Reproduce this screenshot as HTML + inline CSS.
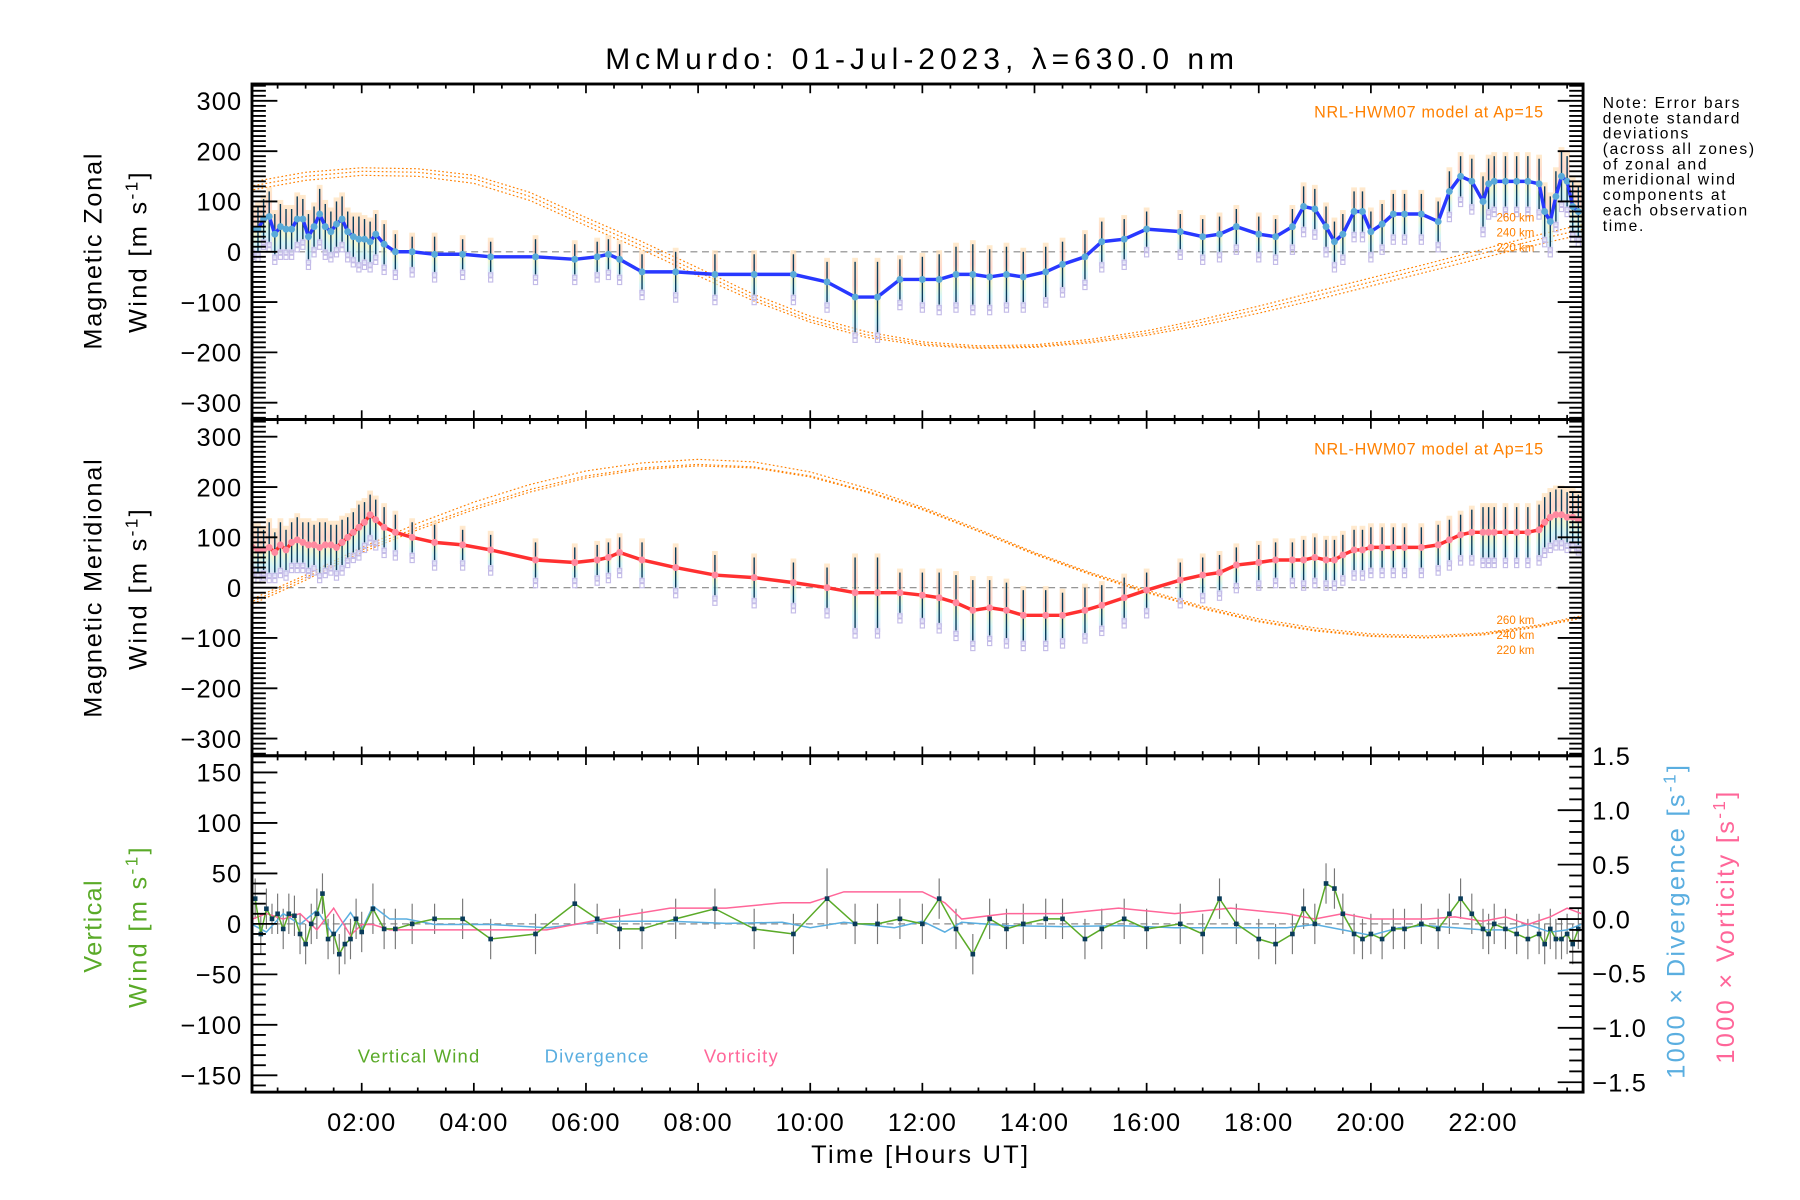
<!DOCTYPE html>
<html><head><meta charset="utf-8"><style>
html,body{margin:0;padding:0;background:#fff;}
svg{display:block;font-family:"Liberation Sans",sans-serif;}
</style></head><body>
<svg id="chart" width="1800" height="1200" viewBox="0 0 1560 1040" xmlns="http://www.w3.org/2000/svg">
<rect width="1560" height="1040" fill="#fff"/>
<g id="layer"></g>
</svg>
<script>
const obsT=[0.05,0.15,0.25,0.35,0.45,0.55,0.65,0.75,0.85,0.95,1.05,1.15,1.25,1.35,1.45,1.55,1.65,1.75,1.85,1.95,2.05,2.15,2.25,2.4,2.6,2.9,3.3,3.8,4.3,5.1,5.8,6.2,6.4,6.6,7.0,7.6,8.3,9.0,9.7,10.3,10.8,11.2,11.6,12.0,12.3,12.6,12.9,13.2,13.5,13.8,14.2,14.5,14.9,15.2,15.6,16.0,16.6,17.0,17.3,17.6,18.0,18.3,18.6,18.8,19.0,19.2,19.35,19.5,19.7,19.85,20.0,20.2,20.4,20.6,20.9,21.2,21.4,21.6,21.8,22.0,22.1,22.2,22.4,22.6,22.8,23.0,23.1,23.2,23.3,23.4,23.5,23.6,23.7];
const zonal=[45,45,65,70,35,50,45,45,65,65,30,50,75,50,40,55,65,40,30,25,25,20,35,15,0,0,-5,-5,-10,-10,-15,-10,-5,-15,-40,-40,-45,-45,-45,-60,-90,-90,-55,-55,-55,-45,-45,-50,-45,-50,-40,-25,-10,20,25,45,40,30,35,50,35,30,50,90,85,50,20,35,80,80,40,55,75,75,75,60,120,150,140,100,135,140,140,140,140,135,80,60,110,150,140,90,80];
const merid=[80,75,75,80,70,85,75,90,95,90,85,85,80,85,85,80,90,100,110,120,130,145,135,120,110,100,90,85,75,55,50,55,60,70,55,40,25,20,10,0,-10,-10,-10,-15,-20,-30,-45,-40,-45,-55,-55,-55,-45,-35,-20,-5,15,25,30,45,50,55,55,55,60,55,55,65,75,75,80,80,80,80,80,85,95,105,110,110,110,110,110,110,110,115,130,140,145,145,140,140,135];
const windErr=[40,45,40,50,40,45,40,40,45,40,45,40,50,45,40,45,45,40,40,45,40,40,40,40,35,30,35,30,30,35,30,30,30,30,35,40,40,40,40,40,70,70,40,45,50,55,60,55,55,50,50,45,45,40,40,35,35,35,35,35,35,35,35,40,40,40,40,40,40,40,40,40,40,40,40,40,40,40,45,50,50,50,50,50,50,50,50,50,50,50,50,50,50];
const vertT=[0.1,0.2,0.3,0.4,0.5,0.6,0.7,0.8,0.9,1.0,1.1,1.2,1.3,1.4,1.5,1.6,1.7,1.8,1.9,2.0,2.2,2.4,2.6,2.9,3.3,3.8,4.3,5.1,5.8,6.2,6.6,7.0,7.6,8.3,9.0,9.7,10.3,10.8,11.2,11.6,12.0,12.3,12.6,12.9,13.2,13.5,13.8,14.2,14.5,14.9,15.2,15.6,16.0,16.6,17.0,17.3,17.6,18.0,18.3,18.6,18.8,19.0,19.2,19.35,19.5,19.7,19.85,20.0,20.2,20.4,20.6,20.9,21.2,21.4,21.6,21.8,22.0,22.1,22.2,22.4,22.6,22.8,23.0,23.1,23.2,23.3,23.4,23.5,23.6,23.7];
const vertW=[25,-10,15,5,10,-5,10,8,-10,-20,0,10,30,-15,-10,-30,-20,-15,5,-8,15,-5,-5,0,5,5,-15,-10,20,5,-5,-5,5,15,-5,-10,25,0,0,5,0,25,-5,-30,5,-5,0,5,5,-15,-5,5,-5,0,-10,25,0,-15,-20,-10,15,0,40,35,10,-10,-15,-10,-15,-5,-5,0,-5,10,25,10,-5,-10,0,-5,-10,-15,-10,-20,-5,-15,-15,-10,-20,-5];
const vertErr=[20,20,20,15,20,20,20,20,20,20,20,25,20,20,20,20,20,20,20,20,25,20,20,20,15,20,20,20,20,15,20,20,20,20,20,20,30,20,20,20,20,20,20,20,20,20,20,20,20,20,20,20,20,20,20,20,20,20,20,20,20,20,20,20,20,20,20,20,20,20,20,20,20,20,20,20,20,20,20,20,20,20,20,20,20,20,20,20,20,20];
const divT=[0.05,0.3,0.6,0.9,1.2,1.5,1.8,2.0,2.2,2.5,2.8,3.3,4.3,5.3,6.3,7.5,8.5,9.5,10.0,10.6,11.5,12.0,12.4,12.7,13.5,14.5,15.5,16.5,17.5,18.5,19.0,19.5,20.0,20.5,21.0,21.5,22.0,22.4,22.8,23.2,23.5,23.75];
const divV=[-0.05,-0.12,0.05,-0.05,0.08,-0.15,0.06,-0.1,0.12,0.0,0.0,-0.05,-0.05,-0.08,-0.02,-0.02,-0.04,-0.03,-0.08,-0.03,-0.08,-0.02,-0.12,-0.03,-0.06,-0.07,-0.06,-0.08,-0.08,-0.08,-0.05,-0.1,-0.15,-0.08,-0.06,-0.08,-0.1,-0.1,-0.05,-0.12,-0.1,-0.05];
const vortV=[0.0,0.05,0.0,0.05,-0.1,0.1,-0.15,-0.05,-0.05,-0.1,-0.1,-0.1,-0.1,-0.1,0.0,0.1,0.1,0.15,0.15,0.25,0.25,0.25,0.15,0.0,0.05,0.05,0.1,0.05,0.1,0.05,0.0,0.05,0.0,0.0,0.0,0.02,-0.02,0.02,-0.05,0.02,0.1,0.05];
const hours=[0,1,2,3,4,5,6,7,8,9,10,11,12,13,14,15,16,17,18,19,20,21,22,23,24];
const zonM260=[122,142,152,150,136,102,52,4,-48,-98,-140,-170,-186,-192,-190,-181,-166,-146,-122,-96,-68,-40,-12,15,40];
const zonM240=[130,150,160,158,145,110,60,12,-40,-92,-135,-165,-183,-190,-188,-178,-162,-140,-115,-88,-60,-32,-3,25,50];
const zonM220=[138,158,167,165,152,118,68,20,-32,-85,-128,-159,-179,-187,-185,-174,-157,-134,-108,-80,-52,-24,5,34,60];
const merM260=[-35,15,70,115,155,190,218,235,242,238,220,190,155,112,66,26,-10,-42,-68,-86,-97,-100,-94,-78,-55];
const merM240=[-30,20,75,120,160,195,222,238,245,240,222,192,157,113,68,28,-8,-40,-66,-84,-95,-99,-92,-76,-52];
const merM220=[-25,25,80,128,170,205,232,248,255,250,230,198,160,116,70,30,-5,-37,-62,-80,-92,-96,-90,-74,-50];
const ticksX=["02:00","04:00","06:00","08:00","10:00","12:00","14:00","16:00","18:00","20:00","22:00"];
const ticksWind=[300,200,100,0,-100,-200,-300];
const ticksVert=[150,100,50,0,-50,-100,-150];
const ticksRight=["1.5","1.0","0.5","0.0","\u22120.5","\u22121.0","\u22121.5"];

const NS="http://www.w3.org/2000/svg";
const L=document.getElementById('layer');
function mk(tag,attrs,parent){const e=document.createElementNS(NS,tag);for(const k in attrs)e.setAttribute(k,attrs[k]);(parent||L).appendChild(e);return e;}
const X0=218.4,X1=1372;
const xs=t=>216.3+48.59*t;
const P1={top:72.8,bot:363.6,zero:218.2,k:0.436};
const P2={top:363.6,bot:655,zero:509.3,k:0.436};
const P3={top:655,bot:946.5,zero:800.7,k:0.875};
const yP=(p,v)=>p.zero-v*p.k;
const yR=v=>796.5-v*94.3;
const fmt=v=>v<0?"\u2212"+Math.abs(v):String(v);

[P1,P2,P3].forEach((p,i)=>{const l=mk('line',{x1:X0,x2:X1,y1:p.zero,y2:p.zero,stroke:'#888','stroke-width':1,'stroke-dasharray':'6,4'});

});

const clip1=mk('clipPath',{id:'c1'});mk('rect',{x:X0,y:P1.top,width:X1-X0,height:P1.bot-P1.top},clip1);
const clip2=mk('clipPath',{id:'c2'});mk('rect',{x:X0,y:P2.top,width:X1-X0,height:P2.bot-P2.top},clip2);
const clip3=mk('clipPath',{id:'c3'});mk('rect',{x:X0,y:P3.top,width:X1-X0,height:P3.bot-P3.top},clip3);
const grad=mk('linearGradient',{id:'rb',x1:0,y1:0,x2:0,y2:1});
[['0','#ffe2b8'],['0.35','#ffc8b8'],['0.6','#eef4c0'],['0.8','#c0f0f4'],['1','#d4d0f4']].forEach(s=>mk('stop',{offset:s[0],'stop-color':s[1]},grad));

function modelLine(p,arr,name,clip){const pts=hours.map((h,i)=>[xs(h),yP(p,arr[i])]);
const e=mk('polyline',{points:pts.map(q=>q.join(',')).join(' '),fill:'none',stroke:'#ff8000','stroke-width':1,'stroke-dasharray':'1.5,2','clip-path':'url(#'+clip+')'});

}
modelLine(P1,zonM260,'zonal-model-260km','c1');modelLine(P1,zonM240,'zonal-model-240km','c1');modelLine(P1,zonM220,'zonal-model-220km','c1');
modelLine(P2,merM260,'meridional-model-260km','c2');modelLine(P2,merM240,'meridional-model-240km','c2');modelLine(P2,merM220,'meridional-model-220km','c2');

function windPanel(p,vals,lineCol,ptCol,clip,name){
 const g=mk('g',{'clip-path':'url(#'+clip+')'});
 
 
 obsT.forEach((t,i)=>{const x=xs(t),v=vals[i],e=windErr[i]||40;
  const r=mk('rect',{x:x-2.5,y:yP(p,v+e+8),width:5,height:(2*e+16)*p.k,fill:'url(#rb)',opacity:0.7},g);
  
  
  for(let j=0;j<2;j++){const s=mk('rect',{x:x-1.8,y:yP(p,v-e-6-j*10)-1.8,width:3.6,height:3.6,fill:'none',stroke:'#c4bce8','stroke-width':1},g);
   
   }
  const b=mk('line',{x1:x,x2:x,y1:yP(p,v+e),y2:yP(p,v-e),stroke:'#0a3c5a','stroke-width':1.2},g);
  
  });
 const pl=mk('polyline',{points:obsT.map((t,i)=>xs(t)+','+yP(p,vals[i])).join(' '),fill:'none',stroke:lineCol,'stroke-width':3},g);
 
 
 obsT.forEach((t,i)=>{const c=mk('circle',{cx:xs(t),cy:yP(p,vals[i]),r:3,fill:ptCol},g);
  
  });
}
windPanel(P1,zonal,'#2838ff','#5aaad8','c1','zonal-wind');
windPanel(P2,merid,'#ff3030','#ff8aa0','c2','meridional-wind');

const g3=mk('g',{'clip-path':'url(#c3)'});


vertT.forEach((t,i)=>{if(i>=vertW.length)return;const e=vertErr[i]||20;const b=mk('line',{x1:xs(t),x2:xs(t),y1:yP(P3,vertW[i]+e),y2:yP(P3,vertW[i]-e),stroke:'#777','stroke-width':1},g3);
 
 });
const dl=mk('polyline',{points:divT.map((t,i)=>xs(t)+','+yR(divV[i])).join(' '),fill:'none',stroke:'#5aaee0','stroke-width':1.3},g3);


const vl=mk('polyline',{points:divT.map((t,i)=>xs(t)+','+yR(vortV[i])).join(' '),fill:'none',stroke:'#ff6699','stroke-width':1.3},g3);


const n3=Math.min(vertT.length,vertW.length);
const wl=mk('polyline',{points:vertT.slice(0,n3).map((t,i)=>xs(t)+','+yP(P3,vertW[i])).join(' '),fill:'none',stroke:'#5aaa28','stroke-width':1.3},g3);


for(let i=0;i<n3;i++){const s=mk('rect',{x:xs(vertT[i])-2,y:yP(P3,vertW[i])-2,width:4,height:4,fill:'#0a3c5a'},g3);
 
 }

function frame(p,i){const r=mk('rect',{x:X0,y:p.top,width:X1-X0,height:p.bot-p.top,fill:'none',stroke:'#000','stroke-width':2.5});
 
 
 for(let h=0.5;h<24;h+=0.5){const x=xs(h);if(x>=X1)break;const maj=(h%2===0);
  mk('line',{x1:x,x2:x,y1:p.bot,y2:p.bot-(maj?8:4),stroke:'#000','stroke-width':1.5});
  mk('line',{x1:x,x2:x,y1:p.top,y2:p.top+(maj?8:4),stroke:'#000','stroke-width':1.5});}}
frame(P1,1);frame(P2,2);frame(P3,3);
function yTicks(p,step,maj,lo,hi,right){for(let v=lo;v<=hi;v+=step){const y=yP(p,v);if(y<p.top||y>p.bot)continue;const M=(Math.round(v)%maj===0);
 mk('line',{x1:X0,x2:X0+(M?22:12),y1:y,y2:y,stroke:'#000','stroke-width':1.6});
 if(right)mk('line',{x1:X1,x2:X1-(M?22:12),y1:y,y2:y,stroke:'#000','stroke-width':1.6});}}
yTicks(P1,10,100,-340,340,true);yTicks(P2,10,100,-340,340,true);yTicks(P3,10,50,-170,170,false);
for(let v=-1.5;v<=1.51;v+=0.1){const y=yR(v);if(y<P3.top-1)continue;const M=Math.abs(Math.round(v*10)%5)===0;
 mk('line',{x1:X1,x2:X1-(M?22:12),y1:y,y2:y,stroke:'#000','stroke-width':1.6});}

function txt(s,x,y,attrs,name){const t=mk('text',Object.assign({x:x,y:y},attrs));t.textContent=s;
 
 return t;}
ticksWind.forEach(v=>{txt(fmt(v),210,yP(P1,v)+8,{'font-size':22,'text-anchor':'end','letter-spacing':1},'zonal-tick-label');
 txt(fmt(v),210,yP(P2,v)+8,{'font-size':22,'text-anchor':'end','letter-spacing':1},'meridional-tick-label');});
ticksVert.forEach(v=>txt(fmt(v),210,yP(P3,v)+8,{'font-size':22,'text-anchor':'end','letter-spacing':1},'vertical-tick-label'));
ticksRight.forEach((s,i)=>txt(s,X1+8,yR(1.5-i*0.5)+8,{'font-size':22,'letter-spacing':1},'right-tick-label'));
ticksX.forEach((s,i)=>txt(s,xs(2+2*i),980,{'font-size':22,'text-anchor':'middle','letter-spacing':1},'time-tick-label'));

txt('McMurdo: 01-Jul-2023, \u03bb=630.0 nm',797,60,{'font-size':26,'text-anchor':'middle',textLength:545,lengthAdjust:'spacing'},'chart-title');
txt('Time [Hours UT]',797,1008,{'font-size':22,'text-anchor':'middle',textLength:188,lengthAdjust:'spacing'},'x-axis-title');
function vtxt(s,x,y,col,name,len){const a={'font-size':22,'text-anchor':'middle',fill:col,transform:'rotate(-90 '+x+' '+y+')'};
 if(len){a.textLength=len;a.lengthAdjust='spacing';}else a['letter-spacing']=2;
 const t=txt('',x,y,a,name);t.innerHTML=s;}
const windT='Wind [m s<tspan dy="-8" font-size="15">-1</tspan><tspan dy="8">]</tspan>';
vtxt('Magnetic Zonal',88,218,'#000','zonal-y-title-1',170);
vtxt(windT,127,218,'#000','zonal-y-title-2');
vtxt('Magnetic Meridional',88,510,'#000','meridional-y-title-1',224);
vtxt(windT,127,510,'#000','meridional-y-title-2');
vtxt('Vertical',88,803,'#5aaa28','vertical-y-title-1',80);
vtxt(windT,127,803,'#5aaa28','vertical-y-title-2');
vtxt('1000 \u00d7 Divergence [s<tspan dy="-8" font-size="15">-1</tspan><tspan dy="8">]</tspan>',1460,798,'#5aaee0','divergence-y-title');
vtxt('1000 \u00d7 Vorticity [s<tspan dy="-8" font-size="15">-1</tspan><tspan dy="8">]</tspan>',1503,803,'#ff6699','vorticity-y-title');

txt('NRL-HWM07 model at Ap=15',1338,102,{'font-size':14,'text-anchor':'end',fill:'#ff8000','letter-spacing':0.6},'zonal-model-label');
txt('NRL-HWM07 model at Ap=15',1338,394,{'font-size':14,'text-anchor':'end',fill:'#ff8000','letter-spacing':0.6},'meridional-model-label');
['260 km','240 km','220 km'].forEach((s,i)=>{txt(s,1297,192+i*13,{'font-size':10,fill:'#ff8000'},'zonal-altitude-label');
 txt(s,1297,541+i*13,{'font-size':10,fill:'#ff8000'},'meridional-altitude-label');});
['Note: Error bars','denote standard','deviations','(across all zones)','of zonal and','meridional wind','components at','each observation','time.'].forEach((s,i)=>
 txt(s,1389,93.6+i*13.3,{'font-size':13.5,'letter-spacing':1.5},'note-text'));
txt('Vertical Wind',310,921,{'font-size':16,fill:'#5aaa28','letter-spacing':1},'legend-vertical-wind');
txt('Divergence',472,921,{'font-size':16,fill:'#5aaee0','letter-spacing':1},'legend-divergence');
txt('Vorticity',610,921,{'font-size':16,fill:'#ff6699','letter-spacing':1},'legend-vorticity');
</script>
</body></html>
